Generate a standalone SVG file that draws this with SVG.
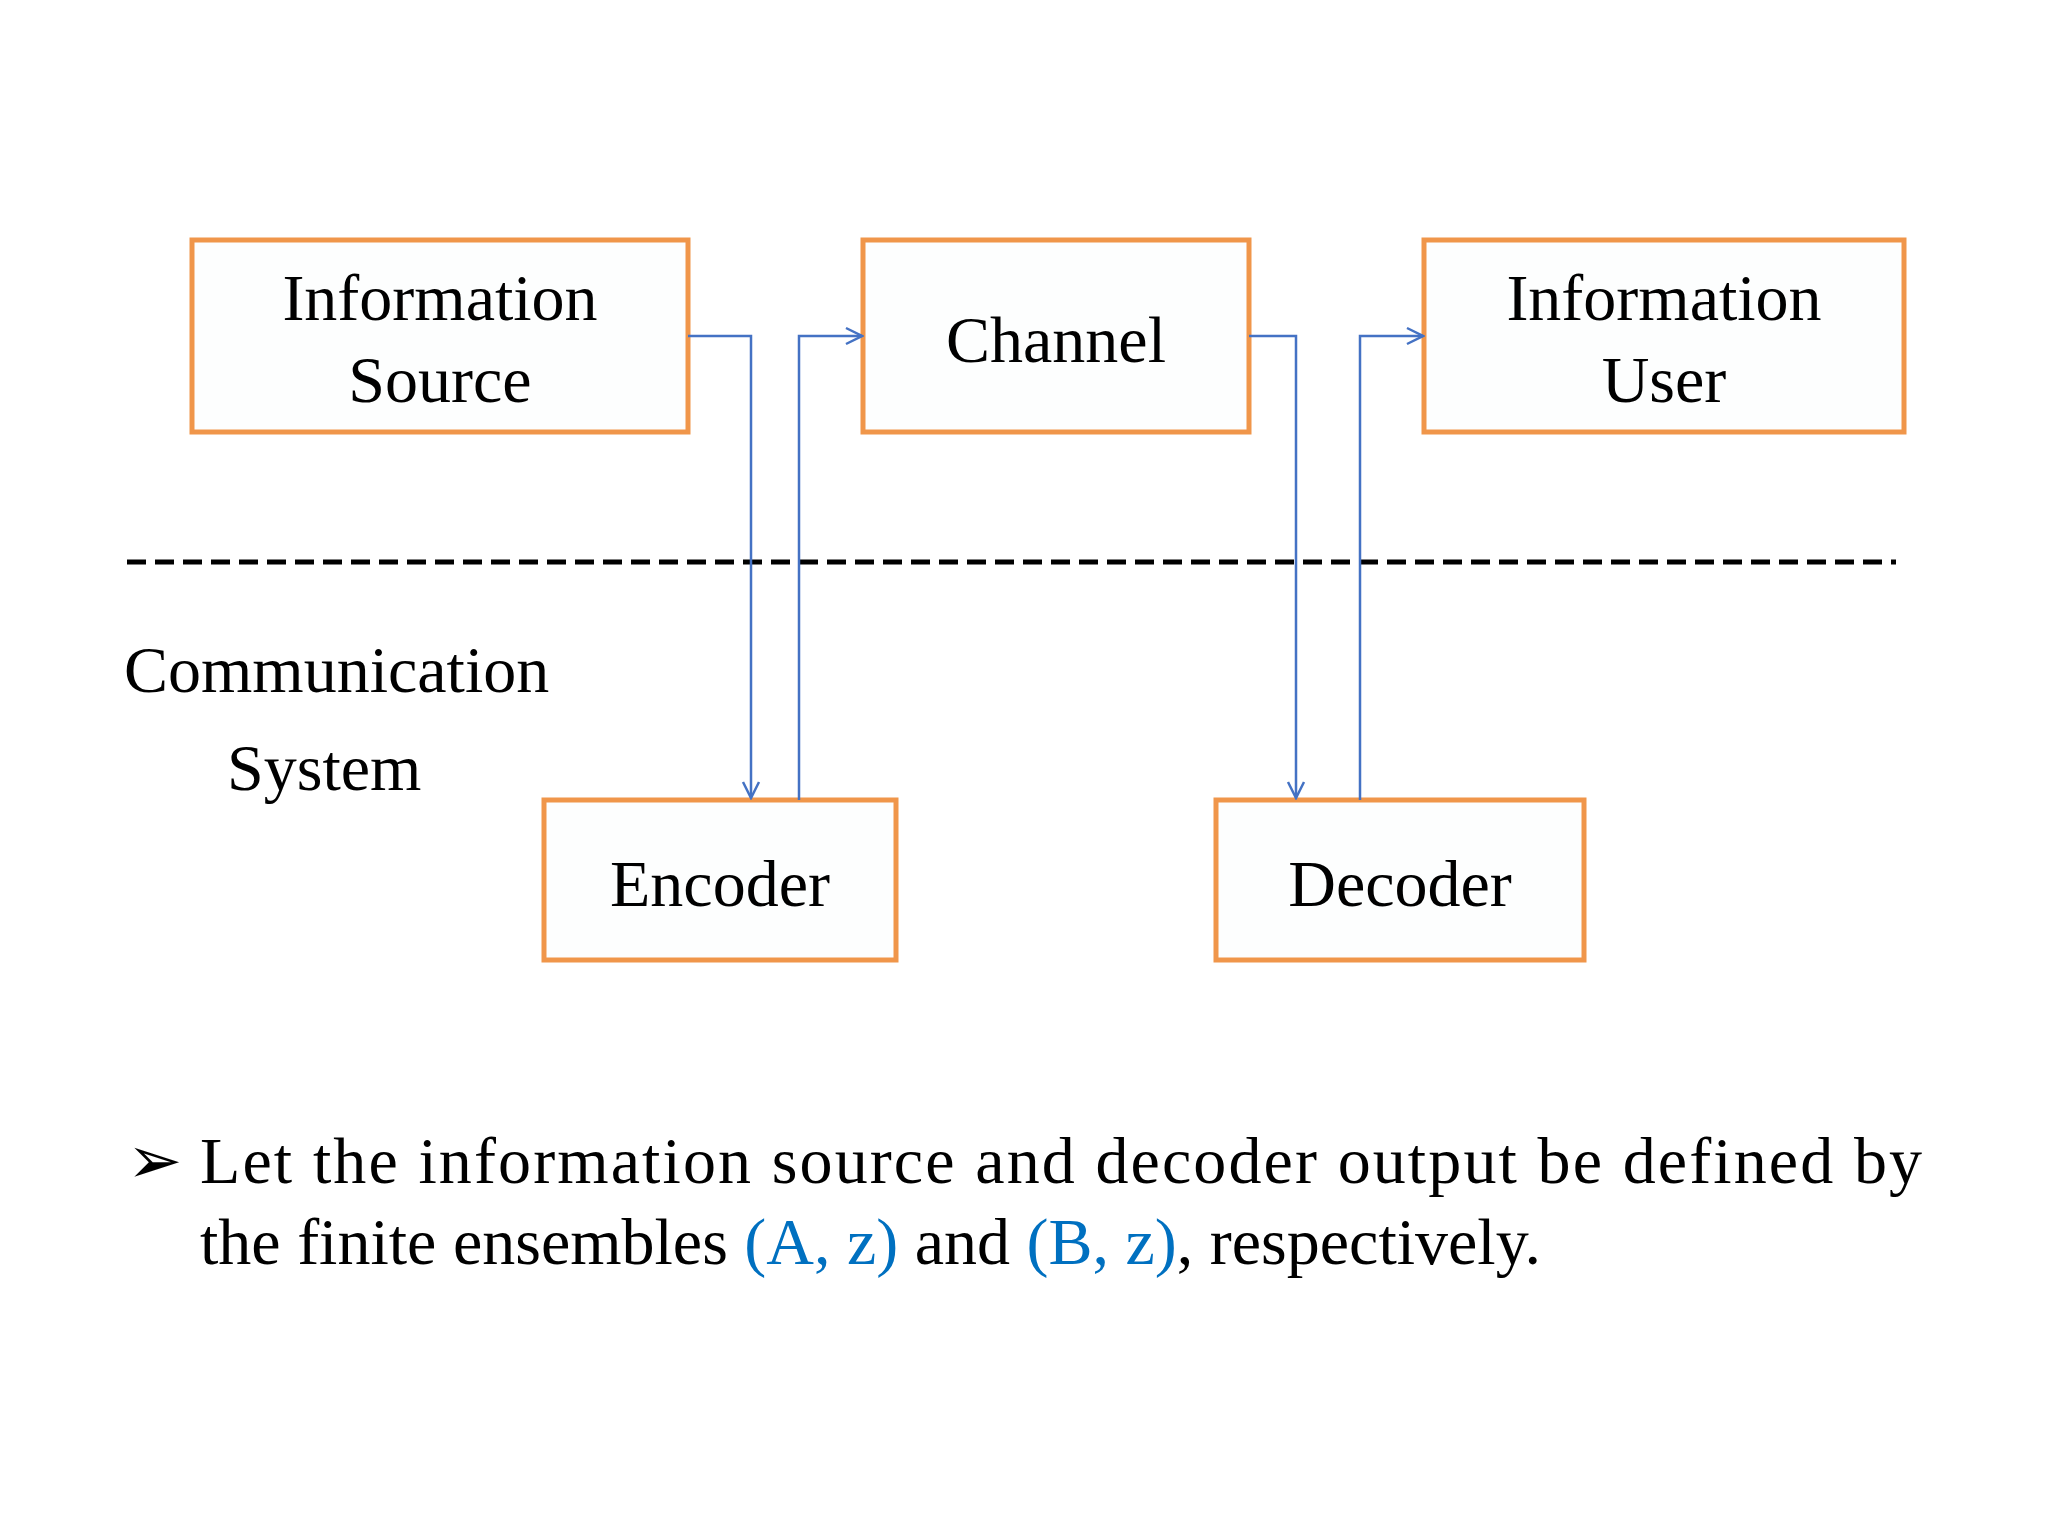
<svg xmlns="http://www.w3.org/2000/svg" width="2048" height="1536" viewBox="0 0 2048 1536">
<defs>
<style>
.box{fill:#fdfefe;stroke:#F0964A;stroke-width:5}
.t{font-family:"Liberation Serif",serif;font-size:66px;fill:#000}
.c{stroke:#4472C4;stroke-width:2.5;fill:none}
.b{fill:#0070C0}
</style>
<marker id="a" markerWidth="20" markerHeight="20" refX="18" refY="10" orient="auto" markerUnits="userSpaceOnUse">
<path d="M2,2 L18,10 L2,18" fill="none" stroke="#4472C4" stroke-width="2.5"/>
</marker>
</defs>
<rect width="2048" height="1536" fill="#fff"/>
<g id="source"><rect class="box" x="192" y="240" width="496" height="192"/><text class="t" x="440" y="320" text-anchor="middle">Information</text><text class="t" x="440" y="402" text-anchor="middle">Source</text></g>
<g id="channel"><rect class="box" x="863" y="240" width="386" height="192"/><text class="t" x="1056" y="362" text-anchor="middle">Channel</text></g>
<g id="user"><rect class="box" x="1424" y="240" width="480" height="192"/><text class="t" x="1664" y="320" text-anchor="middle">Information</text><text class="t" x="1664" y="402" text-anchor="middle">User</text></g>
<g id="encoder"><rect class="box" x="544" y="800" width="352" height="160"/><text class="t" x="720" y="906" text-anchor="middle">Encoder</text></g>
<g id="decoder"><rect class="box" x="1216" y="800" width="368" height="160"/><text class="t" x="1400" y="906" text-anchor="middle">Decoder</text></g>
<line x1="127" y1="562" x2="1896" y2="562" stroke="#000" stroke-width="5" stroke-dasharray="19,9"/>
<g id="connectors">
<path class="c" d="M688,336 H751 V798" marker-end="url(#a)"/>
<path class="c" d="M799,800 V336 H862" marker-end="url(#a)"/>
<path class="c" d="M1249,336 H1296 V798" marker-end="url(#a)"/>
<path class="c" d="M1360,800 V336 H1423" marker-end="url(#a)"/>
</g>
<text class="t" x="124" y="692">Communication</text>
<text class="t" x="227" y="790">System</text>
<text class="t" x="127" y="1183" font-family="DejaVu Sans,sans-serif" font-size="50">➢</text>
<text class="t" x="200" y="1183" textLength="1722" lengthAdjust="spacing">Let the information source and decoder output be defined by</text>
<text class="t" x="200" y="1264">the finite ensembles <tspan class="b">(A, z)</tspan> and <tspan class="b">(B, z)</tspan>, respectively.</text>
</svg>
